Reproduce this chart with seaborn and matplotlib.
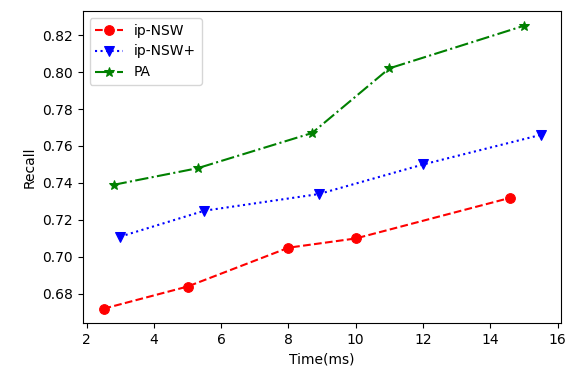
import numpy as np
import pandas as pd
import matplotlib
matplotlib.use("Agg")
import matplotlib.pyplot as plt
import seaborn as sns

# Значения
nsw_time = [2.5, 5.0, 8.0, 10.0, 14.6]
nsw_recall = [0.672, 0.684, 0.705, 0.710, 0.732]

nswp_time = [3.0, 5.5, 8.9, 12.0, 15.5]
nswp_recall = [0.711, 0.725, 0.734, 0.750, 0.766]

pa_time = [2.8, 5.3, 8.7, 11.0, 15.0]
pa_recall = [0.739, 0.748, 0.767, 0.802, 0.825]

series = [
    ("ip-NSW", nsw_time, nsw_recall, "red", "--", "o", 7),
    ("ip-NSW+", nswp_time, nswp_recall, "blue", ":", "v", 7),
    ("PA", pa_time, pa_recall, "green", "-.", "*", 7),
]

fig, ax = plt.subplots(figsize=(5.7, 3.67), dpi=100)

for name, t, r, c, ls, m, ms in series:
    df = pd.DataFrame({"Time(ms)": t, "Recall": r})
    sns.lineplot(data=df, x="Time(ms)", y="Recall", ax=ax, color=c,
                 linestyle=ls, marker=m, markersize=ms, markeredgecolor=c,
                 label=name, linewidth=1.5)

ax.set_xlim(1.88, 16.1)
ax.set_ylim(0.6643, 0.833)
ax.set_xticks([2, 4, 6, 8, 10, 12, 14, 16])
ax.set_yticks([0.68, 0.70, 0.72, 0.74, 0.76, 0.78, 0.80, 0.82])
ax.set_yticklabels([f"{v:.2f}" for v in ax.get_yticks()])
ax.legend(loc="upper left")

fig.subplots_adjust(left=0.145, right=0.984, bottom=0.12, top=0.97)
plt.savefig("out.png", dpi=100)
